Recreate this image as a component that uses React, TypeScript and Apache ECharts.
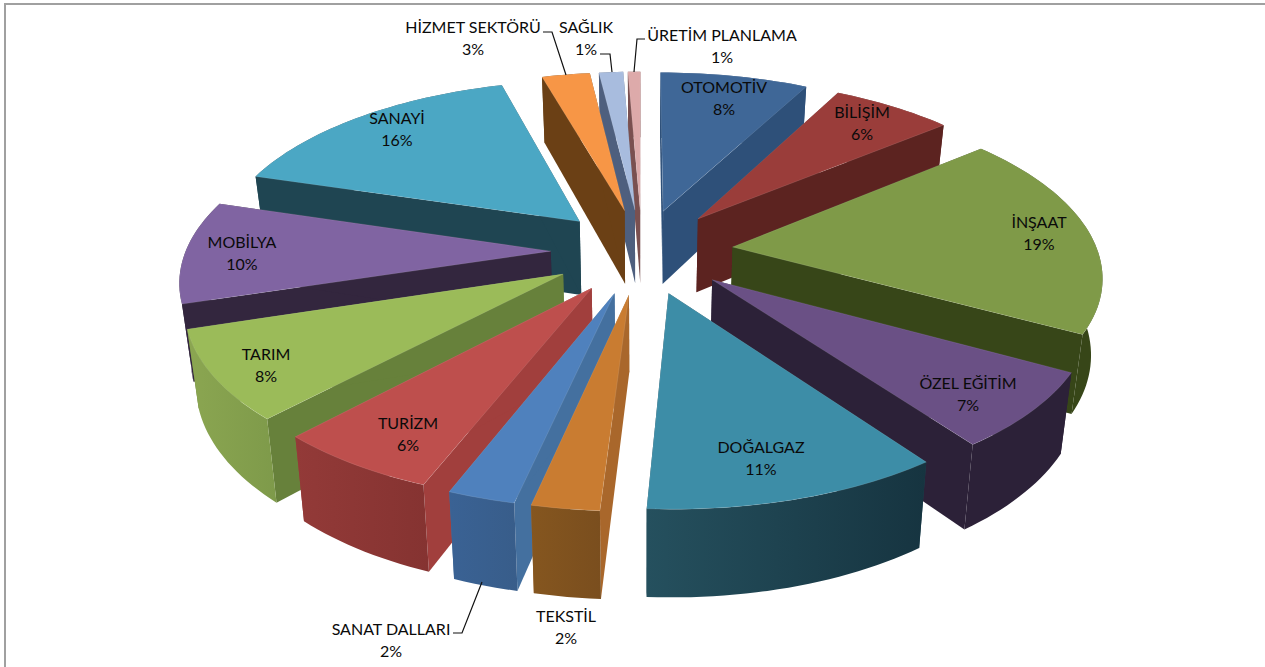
import React, { useEffect, useRef } from "react";
import * as echarts from "echarts";

const categories = ["OTOMOTİV", "BİLİŞİM", "İNŞAAT", "ÖZEL EĞİTİM", "DOĞALGAZ", "TEKSTİL", "SANAT DALLARI", "TURİZM", "TARIM", "MOBİLYA", "SANAYİ", "HİZMET SEKTÖRÜ", "SAĞLIK", "ÜRETİM PLANLAMA"];
const values = [7.7, 6.3, 19, 7, 10.95, 2.49, 2.49, 6.06, 8.2, 9.5, 15.9, 2.5, 1.26, 0.65];

const topColors = ["#3F6797", "#9A3D3A", "#7F9A48", "#6A5085", "#3D8DA7", "#C97C31", "#4F81BD", "#BE4F4D", "#9BBB59", "#8064A2", "#4BA7C4", "#F79646", "#A8BCDE", "#DDAAAA"];
const wallColors = ["#2E5079", "#5C2320", "#374618", "#2C2138", "#1F4552", "#A9672B", "#44709F", "#A13F3D", "#67813B", "#33263E", "#1F4552", "#6B4015", "#4E5F7E", "#7A5050"];
const rimLeft = ["#2E5079", "#5C2320", "#374618", "#2C2138", "#25505E", "#85561F", "#3A6294", "#933A38", "#8BA651", "#33263E", "#1F4552", "#6B4015", "#4E5F7E", "#7A5050"];
const rimRight = ["#2E5079", "#5C2320", "#374618", "#2C2138", "#163440", "#7A4E1E", "#385D8A", "#853331", "#7E9A4A", "#33263E", "#1F4552", "#6B4015", "#4E5F7E", "#7A5050"];

// centre of each data label (layout only)
const labelCentres = [[724, 97], [862, 122], [1039, 232], [968, 393], [761, 457], [566, 626], [391, 639], [408, 433], [266, 364], [242, 252], [397, 128], [473, 37], [586, 37], [722, 45]];
const leaderLines = [
  [[543, 32], [552, 32], [566, 75]],
  [[600, 54], [610, 54], [612, 72]],
  [[645, 39], [637, 39], [634, 72]],
  [[453, 633], [462, 633], [482, 582]],
];

const CX = 642, CY = 251, RX = 365, RY = 170, PERSP = 0.148, EXPLODE = 0.25, DEPTH = 75, BOTTOM_SHRINK = 0.975;
const total = values.reduce((a, b) => a + b, 0);

function project(X: number, Z: number) {
  const w = 1 / (1 - PERSP * Z);
  return { top: [CX + RX * X * w, CY + RY * Z * w], w };
}
function bottomOf(p: { top: number[]; w: number }) {
  return [CX + (p.top[0] - CX) * BOTTOM_SHRINK, p.top[1] + DEPTH * Math.pow(p.w, 0.8)];
}

const slices = (() => {
  let acc = 0;
  return values.map((v, i) => {
    const start = (acc / total) * Math.PI * 2;
    acc += v;
    const end = (acc / total) * Math.PI * 2;
    const mid = (start + end) / 2;
    const ax = EXPLODE * Math.sin(mid);
    const az = -EXPLODE * Math.cos(mid);
    return { i, start, end, ax, az };
  });
})();
const drawOrder = slices.slice().sort((a, b) => a.az - b.az).map((s) => s.i);

function renderSlice(_params: any, api: any) {
  const i = api.value(0);
  const s = slices[i];
  const apex = project(s.ax, s.az);
  const rim: { top: number[]; w: number }[] = [];
  const steps = Math.max(4, Math.ceil(((s.end - s.start) * 180) / Math.PI / 1.5));
  for (let k = 0; k <= steps; k++) {
    const t = s.start + ((s.end - s.start) * k) / steps;
    rim.push(project(s.ax + Math.sin(t), s.az - Math.cos(t)));
  }
  const first = rim[0];
  const last = rim[rim.length - 1];
  const wall = (a: any, b: any) => ({
    type: "polygon",
    shape: { points: [a.top, b.top, bottomOf(b), bottomOf(a)] },
    style: { fill: wallColors[i] },
  });
  const rimWall = {
    type: "polygon",
    shape: { points: [...rim.map((p) => p.top), ...rim.slice().reverse().map(bottomOf)] },
    style: {
      fill: new echarts.graphic.LinearGradient(0, 0, 1, 0, [
        { offset: 0, color: rimLeft[i] },
        { offset: 1, color: rimRight[i] },
      ]),
    },
  };
  const radial = [wall(apex, first), wall(apex, last)];
  const isFront = Math.cos((s.start + s.end) / 2) < 0;
  const sides = isFront ? [...radial, rimWall] : [rimWall, ...radial];
  const top = {
    type: "polygon",
    shape: { points: [apex.top, ...rim.map((p) => p.top)] },
    style: { fill: topColors[i], stroke: "rgba(255,255,255,0.18)", lineWidth: 0.6 },
  };
  return { type: "group", children: [...sides, top] };
}

function labelText(i: number) {
  return `${categories[i]}\n${Math.round(values[i])}%`;
}

export default function App() {
  const ref = useRef<HTMLDivElement>(null);
  useEffect(() => {
    const chart = echarts.init(ref.current!, undefined, { renderer: "svg" });
    chart.setOption({
      animation: false,
      backgroundColor: "#ffffff",
      series: [
        {
          type: "custom",
          coordinateSystem: "none",
          renderItem: renderSlice,
          data: drawOrder.map((i) => ({ name: categories[i], value: [i, values[i]] })),
          encode: { value: 1 },
          silent: true,
          z: 2,
        },
      ],
      graphic: [
        { type: "polyline", z: 1, shape: { points: [[5, 667], [5, 4], [1265, 4]] }, style: { fill: "none", stroke: "#A0A0A0", lineWidth: 2 } },
        ...leaderLines.map((pts) => ({
          type: "polyline",
          z: 5,
          shape: { points: pts },
          style: { fill: "none", stroke: "#111111", lineWidth: 1.2 },
        })),
        ...categories.map((_, i) => ({
          type: "text",
          z: 6,
          x: labelCentres[i][0],
          y: labelCentres[i][1],
          style: {
            text: labelText(i),
            fill: "#0A0A0A",
            font: '16px Lato, "Open Sans", sans-serif',
            lineHeight: 22,
            align: "center",
            verticalAlign: "middle",
          },
        })),
      ],
    });
    return () => chart.dispose();
  }, []);
  return <div ref={ref} style={{ position: "fixed", left: 0, top: 0, width: 1265, height: 667, background: "#fff" }} />;
}
